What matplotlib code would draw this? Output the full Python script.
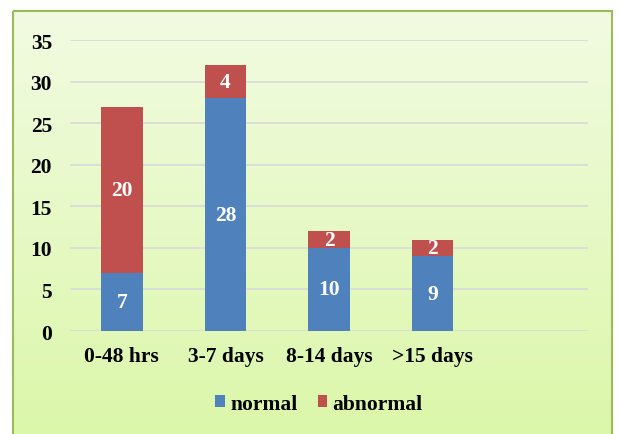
import matplotlib
matplotlib.use("Agg")
import matplotlib.pyplot as plt
import numpy as np
from matplotlib.patches import Rectangle

categories = ["0-48 hrs", "3-7 days", "8-14 days", ">15 days", ""]
normal = [7, 28, 10, 9, 0]
abnormal = [20, 4, 2, 2, 0]
yticks = [0, 5, 10, 15, 20, 25, 30, 35]

plt.rcParams['font.family'] = ['Liberation Serif', 'DejaVu Serif']
plt.rcParams['font.weight'] = 'bold'

FS = 15.5
W, H = 619, 435
fig = plt.figure(figsize=(W/100, H/100), dpi=100)

# background gradient for chart area
bg = fig.add_axes([0, 0, 1, 1], zorder=-10)
bg.set_xlim(0, W); bg.set_ylim(H, 0); bg.axis('off')
grad = np.linspace(0, 1, 256).reshape(-1, 1)
top = np.array([0xf2, 0xfb, 0xe2]) / 255
bot = np.array([0xdb, 0xf7, 0xa9]) / 255
img = top + (bot - top) * grad[:, :, None]
bg.add_patch(Rectangle((0, 0), W, H, color='white', zorder=0))
bg.imshow(img, extent=[13, 612, 440, 12], aspect='auto', zorder=1)
bg.add_patch(Rectangle((13, 12), 599, 440, fill=False, edgecolor='#9bbb59', lw=1.5, zorder=2))
bg.set_xlim(0, W); bg.set_ylim(H, 0)

ax = fig.add_axes([70/W, 1 - 332/H, (588-70)/W, (332-41)/H])
ax.patch.set_alpha(0)
x = np.arange(len(categories))
b1 = ax.bar(x, normal, 0.4, color='#4f81bd', label='normal', zorder=3)
b2 = ax.bar(x, abnormal, 0.4, bottom=normal, color='#c0504d', label='abnormal', zorder=3)
for i in range(4):
    ax.text(x[i], normal[i]/2, str(normal[i]), ha='center', va='center', color='white', fontsize=FS, fontweight='bold', zorder=4)
    ax.text(x[i], normal[i] + abnormal[i]/2, str(abnormal[i]), ha='center', va='center', color='white', fontsize=FS, fontweight='bold', zorder=4)

ax.set_xlim(-0.5, 4.5)
ax.set_ylim(0, 35)
ax.set_yticks(yticks)
ax.set_yticklabels([str(t) for t in yticks], fontsize=FS, fontweight='bold')
ax.set_xticks(x[:4])
ax.set_xticklabels(categories[:4], fontsize=FS, fontweight='bold')
ax.tick_params(axis='y', length=0, pad=13)
ax.tick_params(axis='x', length=0, pad=11)
ax.grid(axis='y', color='#d9d9d9', lw=1.2, zorder=0)
for s in ax.spines.values():
    s.set_visible(False)

fig.legend(handles=[b1, b2], labels=['normal', 'abnormal'], loc='center', bbox_to_anchor=(319/W, 1 - 405/H),
           ncol=2, frameon=False, fontsize=FS, handlelength=0.46, handleheight=0.46, handletextpad=0.23, columnspacing=0.93)

fig.savefig('out.png', dpi=100)
